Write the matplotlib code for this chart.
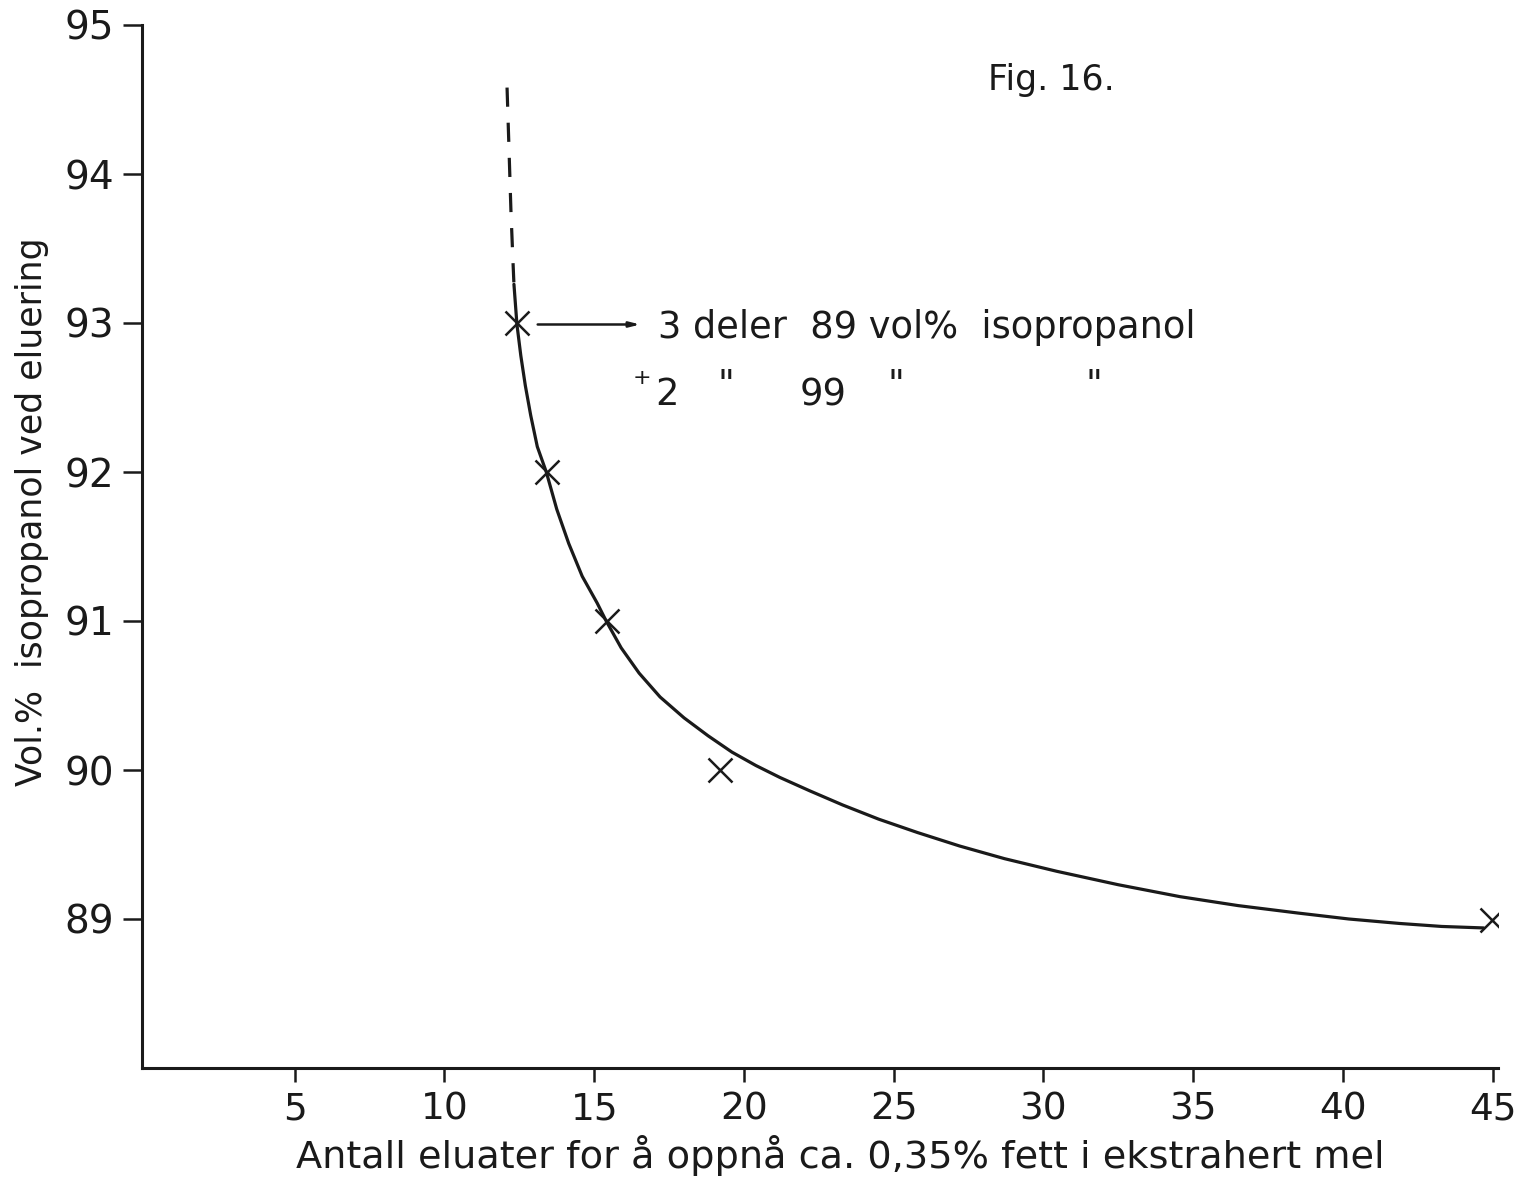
import matplotlib
matplotlib.use("Agg")
import matplotlib.pyplot as plt

plt.rcParams['font.family'] = ['DejaVu Sans']

# measured points (x marks)
pts_x = [12.42, 13.42, 15.43, 19.2, 44.97]
pts_y = [93.0, 92.0, 91.0, 90.0, 88.99]

# fitted curve as drawn (solid)
curve_x = [12.32, 12.42, 12.55, 12.70, 12.88, 13.10, 13.40, 13.75, 14.15, 14.60, 15.10, 15.40, 15.90,
           16.50, 17.20, 18.00, 18.80, 19.60, 20.40, 21.20, 22.20, 23.30, 24.50, 25.80, 27.20, 28.70,
           30.45, 32.50, 34.56, 36.50, 38.50, 40.20, 41.90, 43.30, 44.70]
curve_y = [93.26, 92.99, 92.78, 92.58, 92.38, 92.17, 92.00, 91.75, 91.52, 91.30, 91.12, 91.00, 90.82,
           90.65, 90.49, 90.35, 90.23, 90.12, 90.03, 89.95, 89.86, 89.765, 89.67, 89.58, 89.49, 89.405,
           89.32, 89.23, 89.15, 89.09, 89.04, 89.00, 88.97, 88.95, 88.94]

# dashed extrapolation
dash_x = [12.09, 12.15, 12.22, 12.28, 12.32]
dash_y = [94.58, 94.2, 93.75, 93.45, 93.26]

x_ticks = [5, 10, 15, 20, 25, 30, 35, 40, 45]
y_ticks = [89, 90, 91, 92, 93, 94, 95]

fig = plt.figure(figsize=(15.23, 11.83), dpi=100)
ax = fig.add_axes([142/1523, 115/1183, 1356/1523, 1043/1183])
ax.set_xlim(-0.1, 45.18)
ax.set_ylim(88, 95)

for s in ['top', 'right']:
    ax.spines[s].set_visible(False)
for s in ['left', 'bottom']:
    ax.spines[s].set_linewidth(2.2)
    ax.spines[s].set_color('#1a1a1a')

ax.set_xticks(x_ticks)
ax.set_yticks(y_ticks)
ax.tick_params(axis='y', length=14, width=1.8, pad=6, labelsize=28, colors='#1a1a1a')
ax.tick_params(axis='x', length=10, width=1.8, pad=7, labelsize=27, colors='#1a1a1a')

ax.plot(curve_x, curve_y, color='#1a1a1a', lw=2.3, solid_capstyle='round', solid_joinstyle='round')
ax.plot(dash_x, dash_y, color='#1a1a1a', lw=2.3, linestyle=(0, (6, 5)))
ax.plot(pts_x, pts_y, linestyle='none', marker='x', markersize=17, mew=1.8, color='#1a1a1a')

ax.annotate('', xy=(16.63, 92.99), xytext=(13.02, 92.99),
            arrowprops=dict(arrowstyle='-|>,head_length=0.6,head_width=0.15', color='#1a1a1a', lw=1.8))

ax.text(17.13, 92.97, '3 deler  89 vol%  isopropanol', fontsize=26.5, va='center', ha='left', color='#1a1a1a')
ax.text(16.6, 92.63, '+', fontsize=16, va='center', ha='center', color='#1a1a1a')
ax.text(17.05, 92.52, '2', fontsize=26.5, va='center', ha='left', color='#1a1a1a')
ax.text(19.13, 92.58, '"', fontsize=26.5, va='center', ha='left', color='#1a1a1a')
ax.text(21.87, 92.52, '99', fontsize=26.5, va='center', ha='left', color='#1a1a1a')
ax.text(24.8, 92.58, '"', fontsize=26.5, va='center', ha='left', color='#1a1a1a')
ax.text(31.4, 92.58, '"', fontsize=26.5, va='center', ha='left', color='#1a1a1a')

ax.text(28.15, 94.63, 'Fig. 16.', fontsize=25, va='center', ha='left', color='#1a1a1a')

fig.text(840/1523, 1 - 1156/1183, 'Antall eluater for å oppnå ca. 0,35% fett i ekstrahert mel',
         fontsize=27.5, ha='center', va='center', color='#1a1a1a')
fig.text(32/1523, 1 - 512/1183, 'Vol.%  isopropanol ved eluering', rotation=90,
         fontsize=25, ha='center', va='center', color='#1a1a1a')

fig.savefig('out.png', dpi=100, facecolor='white')
